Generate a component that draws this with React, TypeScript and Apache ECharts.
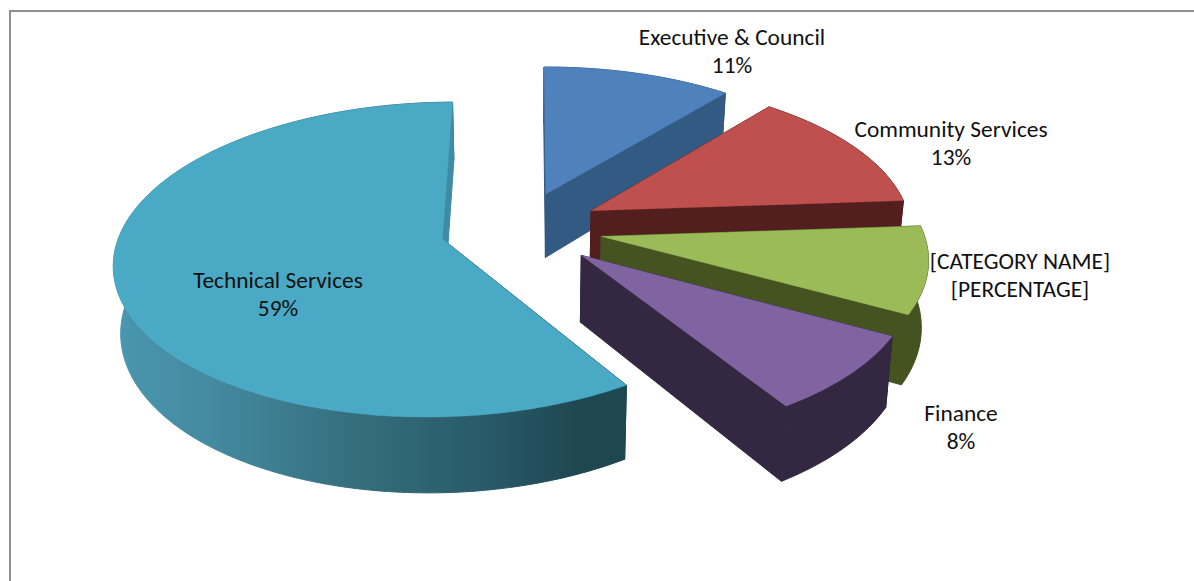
import React, { useEffect, useRef } from "react";
import * as echarts from "echarts";

// Department shares of the budget, in pie order (clockwise from twelve o'clock).
const categories = [
  "Executive & Council",
  "Community Services",
  "[CATEGORY NAME]",
  "Finance",
  "Technical Services",
];
const percentages = [11, 13, 9, 8, 59];
const percentLabels = ["11%", "13%", "[PERCENTAGE]", "8%", "59%"];

const topColors = ["#4f81bd", "#bf504d", "#9bbb59", "#8064a2", "#4aa9c4"];
const wallColors = ["#335a83", "#521f1e", "#445320", "#332742", "#1f4751"];
const explode = [78.35, 81.22, 83.16, 83.01, 79.77];

// Label centres (x, y of the first line).
const labelCentres = [
  [732, 37],
  [951, 129],
  [1020, 261],
  [961, 413],
  [278, 280],
];

// Camera used to project the flat pie onto the page.
const camera = {
  vanishX: 545.59,
  centreX: 519.64,
  centreY: 228.02,
  tilt: 0.4731,
  depth: 2460.2,
  radius: 320.99,
  rotation: -0.343,
  thickness: 65.25,
  lean: 0.0179,
  leanX: 528.27,
};

const DEG = Math.PI / 180;
const ARC_STEP = 1;

type Pt = { x: number; y: number; s: number };

function project(ox: number, oy: number, r: number, angle: number): Pt {
  const a = (angle + camera.rotation) * DEG;
  const wx = ox + r * Math.sin(a);
  const wy = oy + r * Math.cos(a);
  const s = 1 / (1 + wy / camera.depth);
  return {
    x: camera.vanishX + (camera.centreX - camera.vanishX + wx) * s,
    y: camera.centreY - camera.tilt * wy * s,
    s,
  };
}

const top = (p: Pt): number[] => [p.x, p.y];
const bottom = (p: Pt): number[] => [
  p.x * (1 - camera.lean) + camera.leanX * camera.lean,
  p.y + camera.thickness * p.s,
];

function renderSlice(params: any, api: any) {
  const i = params.dataIndex;
  const share = api.value(0) as number;
  const total = percentages.reduce((a, b) => a + b, 0);
  const before = percentages.slice(0, i).reduce((a, b) => a + b, 0);
  const start = (before / total) * 360;
  const end = start + (share / total) * 360;
  const mid = ((start + end) / 2 + camera.rotation) * DEG;
  const ox = explode[i] * Math.sin(mid);
  const oy = explode[i] * Math.cos(mid);

  const apex = project(ox, oy, 0, 0);
  const arc: Pt[] = [];
  for (let a = start; a < end; a += ARC_STEP) arc.push(project(ox, oy, camera.radius, a));
  arc.push(project(ox, oy, camera.radius, end));
  const first = arc[0];
  const last = arc[arc.length - 1];

  const poly = (points: number[][], fill: any, lineWidth = 0.4) => ({
    type: "polygon",
    shape: { points },
    style: { fill, stroke: fill, lineWidth },
  });

  const isMainSlice = i === percentages.length - 1;
  const wallFill = isMainSlice
    ? new echarts.graphic.LinearGradient(
        113,
        0,
        630,
        0,
        [
          { offset: 0, color: "#4a97af" },
          { offset: 0.2, color: "#44899f" },
          { offset: 0.45, color: "#35707f" },
          { offset: 0.72, color: "#295a69" },
          { offset: 0.9, color: "#1f4751" },
          { offset: 1, color: "#1f4751" },
        ],
        true
      )
    : wallColors[i];

  const face = (edge: Pt, fill: any) =>
    poly([top(apex), top(edge), bottom(edge), bottom(apex)], fill, 1);

  return {
    type: "group",
    children: [
      face(first, wallColors[i]),
      poly([...arc.map(top), ...arc.slice().reverse().map(bottom)], wallFill, 1),
      face(last, isMainSlice ? "#3f8ba3" : wallColors[i]),
      poly([top(apex), ...arc.map(top)], topColors[i]),
    ],
  };
}

export default function App() {
  const ref = useRef<HTMLDivElement>(null);

  useEffect(() => {
    document.body.style.margin = "0";
    const chart = echarts.init(ref.current!, null, { renderer: "svg" });
    chart.setOption({
      animation: false,
      backgroundColor: "#ffffff",
      series: [
        {
          type: "custom",
          coordinateSystem: "none",
          silent: true,
          renderItem: renderSlice,
          data: percentages.map((value, i) => ({ name: categories[i], value: [value] })),
        },
      ],
      graphic: [
        {
          type: "line",
          z: 5,
          shape: { x1: 10, y1: 11, x2: 1194, y2: 11 },
          style: { stroke: "#8f8f8f", lineWidth: 2 },
        },
        {
          type: "line",
          z: 5,
          shape: { x1: 10, y1: 10, x2: 10, y2: 581 },
          style: { stroke: "#8f8f8f", lineWidth: 2 },
        },
        ...categories.map((name, i) => ({
          type: "text",
          z: 10,
          x: labelCentres[i][0],
          y: labelCentres[i][1] - 14,
          style: {
            text: `${name}\n${percentLabels[i]}`,
            align: "center",
            verticalAlign: "top",
            fontFamily: "Carlito, Lato, sans-serif",
            fontSize: 23.4,
            lineHeight: 28,
            fill: "#111111",
          },
        })),
      ],
    });
    return () => chart.dispose();
  }, []);

  return <div ref={ref} style={{ width: 1194, height: 581 }} />;
}
